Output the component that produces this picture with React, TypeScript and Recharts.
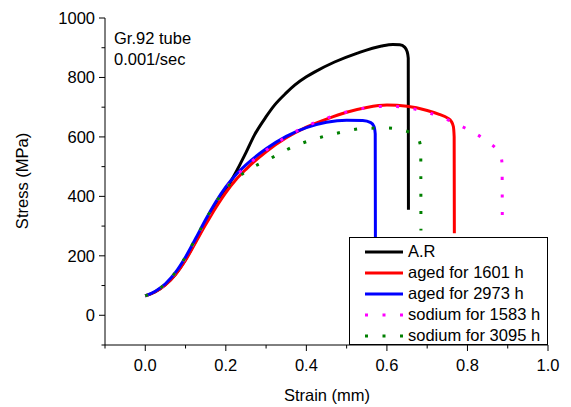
import React from 'react';
import { LineChart, Line, XAxis, YAxis, Legend, Customized } from 'recharts';

const FONT = '"Liberation Sans", Arial, sans-serif';

// tick values
const xTicks = [-0.1, 0, 0.1, 0.2, 0.3, 0.4, 0.5, 0.6, 0.7, 0.8, 0.9, 1.0];
const yTicks = [-100, 0, 100, 200, 300, 400, 500, 600, 700, 800, 900, 1000];

// A.R
const arStrain = [0, 0.025, 0.05, 0.075, 0.1, 0.125, 0.15, 0.175, 0.2, 0.221, 0.25, 0.271, 0.3, 0.321, 0.35, 0.371, 0.4, 0.42, 0.47, 0.527, 0.587, 0.615, 0.632, 0.644, 0.65, 0.653, 0.6535];
const arStress = [65, 79, 103, 138, 188, 249, 310, 368, 422, 471, 547, 606, 668, 707, 748, 774, 802, 818, 852, 882, 906, 911, 910, 902, 888, 865, 355];

// aged for 1601 h
const aged1601Strain = [0, 0.025, 0.05, 0.075, 0.1, 0.125, 0.15, 0.175, 0.2, 0.225, 0.25, 0.3, 0.35, 0.4, 0.45, 0.5, 0.55, 0.6, 0.65, 0.7, 0.73, 0.75, 0.76, 0.765, 0.767, 0.7675];
const aged1601Stress = [65, 79, 102, 137, 185, 245, 305, 362, 413, 456, 491, 550, 597, 633, 660, 683, 699, 707, 703, 689, 676, 664, 652, 635, 600, 276];

// aged for 2973 h
const aged2973Strain = [0, 0.025, 0.05, 0.075, 0.1, 0.125, 0.15, 0.175, 0.2, 0.225, 0.25, 0.3, 0.35, 0.4, 0.45, 0.5, 0.54, 0.56, 0.568, 0.571, 0.5715];
const aged2973Stress = [65, 81, 106, 144, 196, 258, 322, 381, 432, 473, 506, 560, 602, 631, 649, 656, 655, 648, 635, 610, 200];

// sodium for 1583 h
const sodium1583Strain = [0, 0.025, 0.05, 0.075, 0.1, 0.125, 0.15, 0.175, 0.2, 0.225, 0.25, 0.3, 0.35, 0.4, 0.45, 0.5, 0.55, 0.6, 0.65, 0.7, 0.75, 0.794, 0.823, 0.851, 0.87, 0.882, 0.886, 0.8865];
const sodium1583Stress = [65, 80, 105, 142, 193, 255, 318, 376, 427, 467, 500, 555, 600, 636, 663, 684, 698, 703, 698, 683, 658, 630, 609, 582, 562, 540, 510, 327];

// sodium for 3095 h
const sodium3095Strain = [0, 0.025, 0.05, 0.075, 0.1, 0.125, 0.15, 0.175, 0.2, 0.225, 0.25, 0.313, 0.35, 0.396, 0.45, 0.488, 0.545, 0.6, 0.627, 0.657, 0.672, 0.68, 0.684, 0.6845];
const sodium3095Stress = [65, 81, 106, 144, 196, 258, 321, 379, 426, 459, 484, 529, 556, 582, 604, 616, 629, 630, 626, 615, 603, 588, 560, 285];

const toPoints = (xs: number[], ys: number[]) => xs.map((x, i) => ({ x, y: ys[i] }));

const series = [
  { name: 'A.R', color: '#000000', dash: undefined, data: toPoints(arStrain, arStress) },
  { name: 'aged for 1601 h', color: '#ff0000', dash: undefined, data: toPoints(aged1601Strain, aged1601Stress) },
  { name: 'aged for 2973 h', color: '#0000ff', dash: undefined, data: toPoints(aged2973Strain, aged2973Stress) },
  { name: 'sodium for 1583 h', color: '#ff00ff', dash: '3 14.5', data: toPoints(sodium1583Strain, sodium1583Stress) },
  { name: 'sodium for 3095 h', color: '#008000', dash: '3 14.5', data: toPoints(sodium3095Strain, sodium3095Stress) },
];

const isMajorX = (v: number) => v >= 0 && Math.round(v * 10) % 2 === 0;
const isMajorY = (v: number) => Math.round(v) % 200 === 0;

// draws the tick mark (and label when wanted) starting on the axis line
function AxisTick(props: any) {
  const { x, y, payload, side, labels } = props;
  const v = payload.value;
  const major = side === 'bottom' || side === 'top' ? isMajorX(v) : isMajorY(v);
  const len = major ? 6 : 3.5;
  if (side === 'bottom') {
    return (
      <g>
        <line x1={x} y1={y} x2={x} y2={y + len} stroke="#000" />
        {labels && major && (
          <text x={x} y={y + 26} textAnchor="middle" fontSize={16.5} fontFamily={FONT} fill="#000">
            {v.toFixed(1)}
          </text>
        )}
      </g>
    );
  }
  if (side === 'top') {
    return <line x1={x} y1={y} x2={x} y2={y + len} stroke="#000" />;
  }
  if (side === 'left') {
    return (
      <g>
        <line x1={x} y1={y} x2={x - len} y2={y} stroke="#000" />
        {labels && major && (
          <text x={x - 10} y={y + 6} textAnchor="end" fontSize={16.5} fontFamily={FONT} fill="#000">
            {v}
          </text>
        )}
      </g>
    );
  }
  return <line x1={x} y1={y} x2={x - len} y2={y} stroke="#000" />;
}

function renderLegend() {
  return (
    <div
      style={{
        width: 199,
        height: 108,
        boxSizing: 'border-box',
        border: '1px solid #000',
        background: '#fff',
        padding: '3px 0 0 15px',
        fontFamily: FONT,
        fontSize: 16.5,
        color: '#000',
      }}
    >
      {series.map((s) => (
        <div key={s.name} style={{ display: 'flex', alignItems: 'center', height: 21 }}>
          <svg width={38} height={8} style={{ marginRight: 5 }}>
            <line x1={0} y1={4} x2={38} y2={4} stroke={s.color} strokeWidth={3} strokeDasharray={s.dash} />
          </svg>
          <span style={{ lineHeight: '21px', whiteSpace: 'nowrap' }}>{s.name}</span>
        </div>
      ))}
    </div>
  );
}

function Texts() {
  return (
    <g fontFamily={FONT} fill="#000">
      <text x={114} y={44} fontSize={16.5}>Gr.92 tube</text>
      <text x={114} y={65} fontSize={16.5}>0.001/sec</text>
      <text x={327} y={401} fontSize={16.5} textAnchor="middle">Strain (mm)</text>
      <text x={28} y={181} fontSize={16.5} textAnchor="middle" transform="rotate(-90 28 181)">Stress (MPa)</text>
    </g>
  );
}

export default function App() {
  return (
    <div style={{ position: 'absolute', left: 0, top: 0, background: '#fff' }}>
      <LineChart width={571} height={407} margin={{ top: 18, right: 23, bottom: 22, left: 45 }}>
        <XAxis
          type="number"
          dataKey="x"
          domain={[-0.1, 1.0]}
          ticks={xTicks}
          allowDataOverflow
          interval={0}
          height={40}
          axisLine={{ stroke: '#000' }}
          tickLine={false}
          tickSize={0}
          tickMargin={0}
          tick={<AxisTick side="bottom" labels />}
        />
        <XAxis
          xAxisId="top"
          orientation="top"
          type="number"
          dataKey="x"
          domain={[-0.1, 1.0]}
          ticks={xTicks}
          allowDataOverflow
          interval={0}
          height={0}
          mirror
          axisLine={{ stroke: '#000' }}
          tickLine={false}
          tickSize={0}
          tickMargin={0}
          tick={<AxisTick side="top" />}
        />
        <YAxis
          type="number"
          domain={[-100, 1000]}
          ticks={yTicks}
          allowDataOverflow
          interval={0}
          width={60}
          axisLine={{ stroke: '#000' }}
          tickLine={false}
          tickSize={0}
          tickMargin={0}
          tick={<AxisTick side="left" labels />}
        />
        <YAxis
          yAxisId="right"
          orientation="right"
          type="number"
          domain={[-100, 1000]}
          ticks={yTicks}
          allowDataOverflow
          interval={0}
          width={0}
          mirror
          axisLine={{ stroke: '#000' }}
          tickLine={false}
          tickSize={0}
          tickMargin={0}
          tick={<AxisTick side="right" />}
        />
        {series.map((s) => (
          <Line
            key={s.name}
            data={s.data}
            dataKey="y"
            name={s.name}
            type="monotone"
            stroke={s.color}
            strokeWidth={3}
            strokeDasharray={s.dash}
            dot={false}
            activeDot={false}
            isAnimationActive={false}
          />
        ))}
        <Customized component={Texts} />
        <Legend
          layout="horizontal"
          verticalAlign="middle"
          align="center"
          content={renderLegend}
          wrapperStyle={{ position: 'absolute', left: 349, top: 237, width: 199, height: 108 }}
        />
      </LineChart>
    </div>
  );
}
